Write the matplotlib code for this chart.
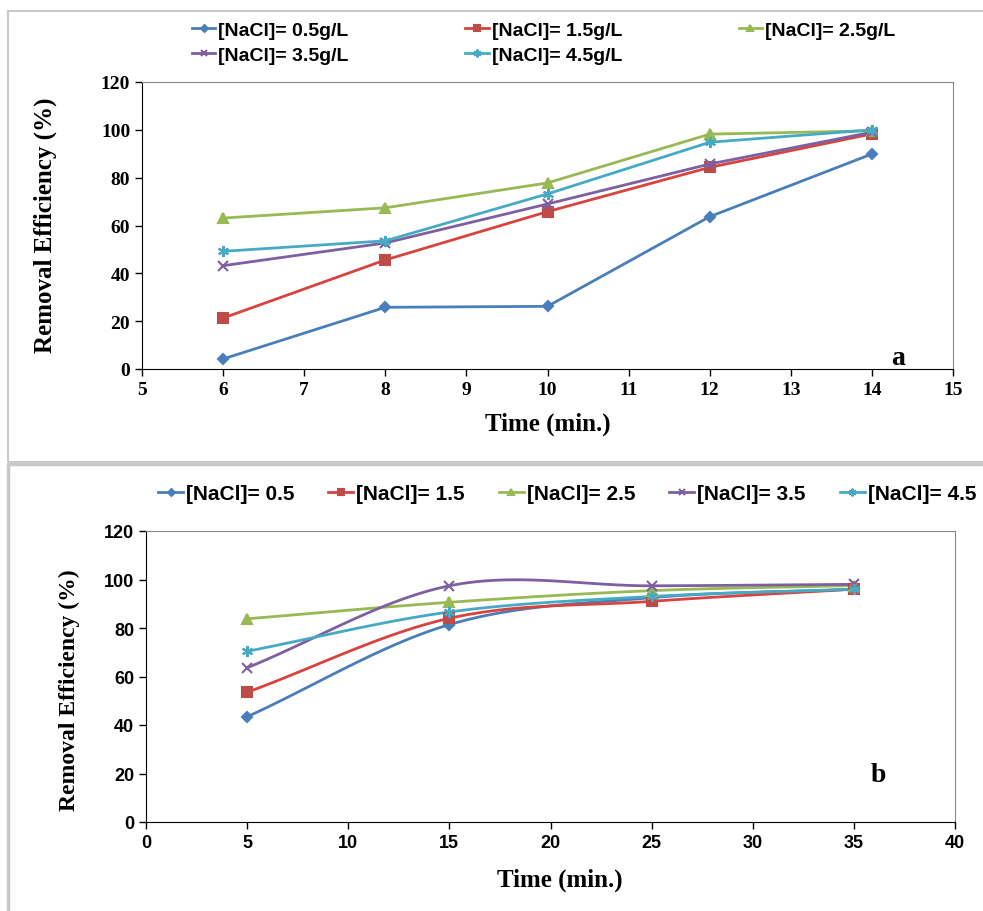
import numpy as np
import matplotlib
matplotlib.use("Agg")
import matplotlib.pyplot as plt
from matplotlib.patches import Rectangle

# ---------------- data ----------------
time_a = [6, 8, 10, 12, 14]
a_05 = [4.2, 25.8, 26.2, 63.7, 89.9]
a_15 = [21.3, 45.6, 65.8, 84.3, 98.3]
a_25 = [63.1, 67.4, 77.8, 98.2, 99.6]
a_35 = [43.2, 52.7, 69.0, 85.7, 99.0]
a_45 = [49.2, 53.6, 73.2, 94.8, 100.0]
labels_a = ["[NaCl]= 0.5g/L", "[NaCl]= 1.5g/L", "[NaCl]= 2.5g/L",
            "[NaCl]= 3.5g/L", "[NaCl]= 4.5g/L"]

time_b = [5, 15, 25, 35]
b_05 = [43.4, 81.4, 92.5, 96.0]
b_15 = [53.5, 84.0, 91.0, 96.0]
b_25 = [83.8, 90.6, 95.4, 97.5]
b_35 = [63.6, 97.4, 97.4, 98.0]
b_45 = [70.4, 86.6, 93.0, 96.0]
labels_b = ["[NaCl]= 0.5", "[NaCl]= 1.5", "[NaCl]= 2.5",
            "[NaCl]= 3.5", "[NaCl]= 4.5"]

colors = ["#4a7ebb", "#d9433e", "#98b954", "#7d60a0", "#46aac5"]
mcolors = ["#4a7ebb", "#be4b48", "#98b954", "#7d60a0", "#46aac5"]
markers = ["D", "s", "^", "x", (6, 2, 0)]
msizes = [5, 7, 7, 7, 8]

serif = ["Liberation Serif", "DejaVu Serif"]
narrow = ["Liberation Sans Narrow", "Liberation Sans", "DejaVu Sans"]


def smooth(x, y, n=40):
    """Catmull-Rom spline through points (Excel-like smoothed line)."""
    x = np.asarray(x, float)
    y = np.asarray(y, float)
    px = np.concatenate([[2 * x[0] - x[1]], x, [2 * x[-1] - x[-2]]])
    py = np.concatenate([[2 * y[0] - y[1]], y, [2 * y[-1] - y[-2]]])
    xs, ys = [], []
    t = np.linspace(0, 1, n)
    for i in range(1, len(px) - 2):
        p0, p1, p2, p3 = (np.array([px[j], py[j]]) for j in range(i - 1, i + 3))
        for tt in t:
            pt = 0.5 * ((2 * p1) + (-p0 + p2) * tt +
                        (2 * p0 - 5 * p1 + 4 * p2 - p3) * tt ** 2 +
                        (-p0 + 3 * p1 - 3 * p2 + p3) * tt ** 3)
            xs.append(pt[0])
            ys.append(pt[1])
    return np.array(xs), np.array(ys)


W, H = 983, 912
fig = plt.figure(figsize=(W / 100, H / 100), dpi=100)

# panel frames
fig.patches.append(Rectangle((8 / W, 1 - 463 / H), 1.0, 451 / H,
                             transform=fig.transFigure, fill=False,
                             edgecolor="#c8c8c8", lw=1.5))
fig.patches.append(Rectangle((8 / W, -0.01), 1.0, (1 - 465 / H) + 0.01,
                             transform=fig.transFigure, fill=False,
                             edgecolor="#c8c8c8", lw=2.5))

# ---------------- panel a ----------------
ax1 = fig.add_axes([142 / W, 1 - 370 / H, (953 - 142) / W, (370 - 83) / H])
series_a = [a_05, a_15, a_25, a_35, a_45]
handles_a = []
for y, c, mc, m, ms, lab in zip(series_a, colors, mcolors, markers, msizes, labels_a):
    h, = ax1.plot(time_a, y, color=c, lw=2, marker=m, ms=ms, mfc=mc, mec=mc,
                  mew=1.5, label=lab)
    handles_a.append(h)
ax1.set_xlim(5, 15)
ax1.set_ylim(0, 120)
ax1.set_xticks(range(5, 16))
ax1.set_yticks(range(0, 121, 20))
for lab in ax1.get_xticklabels() + ax1.get_yticklabels():
    lab.set_fontfamily(serif)
    lab.set_fontweight("bold")
    lab.set_fontsize(14)
ax1.tick_params(direction="out", length=5, width=1)
ax1.spines["top"].set_color("#888888")
ax1.spines["right"].set_color("#888888")
ax1.set_xlabel("Time (min.)", fontfamily=serif, fontweight="bold", fontsize=18)
ax1.set_ylabel("Removal Efficiency (%)", fontfamily=serif, fontweight="bold", fontsize=18)
ax1.xaxis.set_label_coords(0.5006, -0.15)
ax1.yaxis.set_label_coords(-0.105, 0.505)
ax1.text(14.32, 2, "a", fontfamily=serif, fontweight="bold", fontsize=20,
         ha="center", va="baseline")
order = [0, 3, 1, 4, 2]
fig.legend([handles_a[i] for i in order], [labels_a[i] for i in order],
           loc="upper left", bbox_to_anchor=(192 / W, 1 - 22 / H),
           bbox_transform=fig.transFigure, ncol=3, frameon=False,
           prop={"family": narrow, "weight": "bold", "size": 14},
           columnspacing=6.0, handlelength=1.2, handletextpad=0.15,
           labelspacing=0.4, markerscale=0.7, borderpad=0, borderaxespad=0)

# ---------------- panel b ----------------
ax2 = fig.add_axes([146 / W, 1 - 823 / H, (955 - 146) / W, (823 - 532) / H])
series_b = [b_05, b_15, b_25, b_35, b_45]
handles_b = []
for y, c, mc, m, ms, lab in zip(series_b, colors, mcolors, markers, msizes, labels_b):
    sx, sy = smooth(time_b, y)
    ax2.plot(sx, sy, color=c, lw=2, zorder=2)
    ax2.plot(time_b, y, ls="none", marker=m, ms=ms, mfc=mc, mec=mc, mew=1.5, zorder=3)
    h, = ax2.plot([], [], color=c, lw=2, marker=m, ms=ms, mfc=mc, mec=mc, mew=1.5, label=lab)
    handles_b.append(h)
ax2.set_xlim(0, 40)
ax2.set_ylim(0, 120)
ax2.set_xticks(range(0, 41, 5))
ax2.set_yticks(range(0, 121, 20))
for lab in ax2.get_xticklabels() + ax2.get_yticklabels():
    lab.set_fontfamily(narrow)
    lab.set_fontweight("bold")
    lab.set_fontsize(13)
ax2.tick_params(direction="out", length=5, width=1)
ax2.spines["top"].set_color("#888888")
ax2.spines["right"].set_color("#888888")
ax2.set_xlabel("Time (min.)", fontfamily=serif, fontweight="bold", fontsize=18)
ax2.set_ylabel("Removal Efficiency (%)", fontfamily=serif, fontweight="bold", fontsize=17)
ax2.xaxis.set_label_coords(0.512, -0.155)
ax2.yaxis.set_label_coords(-0.082, 0.457)
ax2.text(36.2, 17, "b", fontfamily=serif, fontweight="bold", fontsize=20,
         ha="center", va="baseline")
fig.legend(handles_b, labels_b, loc="upper left", bbox_to_anchor=(158 / W, 1 - 485 / H),
           bbox_transform=fig.transFigure, ncol=5, frameon=False,
           prop={"family": narrow, "weight": "bold", "size": 15},
           columnspacing=1.62, handlelength=1.2, handletextpad=0.15,
           markerscale=0.7, borderpad=0, borderaxespad=0)

fig.savefig("out.png", dpi=100)
